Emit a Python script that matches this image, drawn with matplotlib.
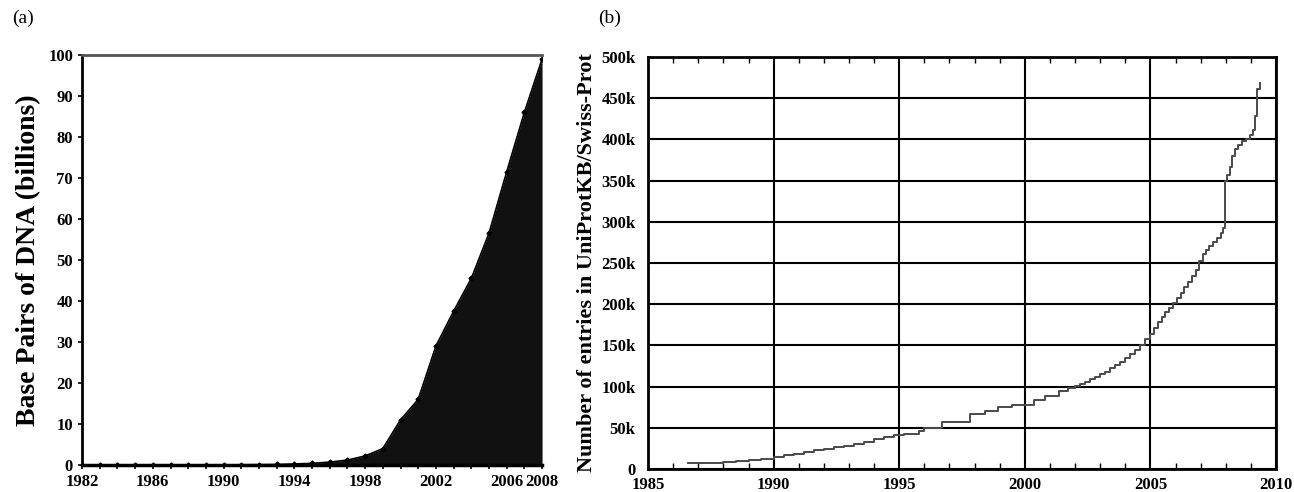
import numpy as np
from matplotlib import pyplot as plt
from matplotlib.ticker import MultipleLocator, FuncFormatter

# (a) GenBank growth, billions of base pairs per year
dna_years = list(range(1982, 2009))
dna_bp = [0.0, 0.0, 0.0, 0.0, 0.0, 0.0, 0.0, 0.0, 0.0, 0.05, 0.08, 0.12,
          0.25, 0.4, 0.7, 1.2, 2.2, 4.0, 11.0, 16.0, 29.0, 37.5, 45.5,
          56.5, 71.5, 86.0, 99.0]
dna_xticks = [1982, 1986, 1990, 1994, 1998, 2002, 2006, 2008]

# (b) UniProtKB/Swiss-Prot entries (thousands)
sp_years = [1986.6, 1988.0, 1988.5, 1989.0, 1989.5, 1990.0, 1990.4, 1990.8,
            1991.2, 1991.6, 1992.0, 1992.4, 1992.8, 1993.2, 1993.6, 1994.0,
            1994.4, 1994.8, 1995.2, 1995.8, 1996.0, 1996.7, 1997.8, 1998.4,
            1998.95, 1999.5, 2000.35, 2000.8, 2001.35, 2001.7,
            2002.0, 2002.2, 2002.4, 2002.6, 2002.8, 2003.0, 2003.2, 2003.4,
            2003.6, 2003.8, 2004.0, 2004.2, 2004.4, 2004.6, 2004.8, 2005.0,
            2005.15, 2005.3, 2005.45, 2005.6, 2005.75, 2005.9, 2006.05, 2006.2,
            2006.35, 2006.5, 2006.65, 2006.8, 2006.95, 2007.08, 2007.2, 2007.35,
            2007.5, 2007.65, 2007.8, 2007.9, 2007.95, 2008.05, 2008.15, 2008.25,
            2008.35, 2008.5, 2008.65, 2008.8, 2008.95, 2009.1, 2009.15, 2009.25,
            2009.35]
sp_entries = [7.5, 8.5, 10, 11, 12, 14.5, 16.5, 18.5,
              20.5, 22.5, 24.5, 26.5, 28.5, 30.5, 33, 36,
              38.5, 41, 42.5, 46, 49.5, 57, 67, 71,
              75, 78, 84, 89, 95, 98,
              101, 103, 106, 109, 112, 115, 118, 122,
              126, 130, 135, 140, 145, 151, 158, 164,
              171, 178, 184, 190, 196, 201, 208, 214,
              221, 227, 234, 242, 252, 261, 266, 271,
              275, 280, 286, 292, 350, 357, 366, 380,
              388, 393, 398, 401, 405, 411, 428, 461,
              468]

plt.rcParams['font.family'] = 'Liberation Serif'

fig = plt.figure(figsize=(12.94, 4.92), dpi=100)

# ---- panel (a) ----
ax1 = fig.add_axes([0.0634, 0.0549, 0.3555, 0.8333])
ax1.fill_between(dna_years, dna_bp, 0, color='#111111', lw=0)
ax1.plot(dna_years, dna_bp, color='black', lw=1.2, marker='D', markersize=2.5)
ax1.set_xlim(1982, 2008)
ax1.set_ylim(0, 100)
ax1.set_xticks(dna_xticks)
ax1.xaxis.set_minor_locator(MultipleLocator(1))
ax1.set_yticks(np.arange(0, 101, 10))
ax1.tick_params(axis='both', labelsize=12, length=3, width=1.2)
ax1.tick_params(axis='x', which='minor', length=3, width=1.2)
for lab in ax1.get_xticklabels() + ax1.get_yticklabels():
    lab.set_fontweight('bold')
ax1.spines['right'].set_visible(False)
ax1.spines['top'].set_color('#555555')
ax1.spines['top'].set_linewidth(2)
ax1.spines['left'].set_linewidth(2)
ax1.spines['bottom'].set_linewidth(2.5)
ax1.set_ylabel('Base Pairs of DNA (billions)', fontsize=20, fontweight='bold',
               labelpad=5)
fig.text(0.009, 0.962, '(a)', fontsize=14, va='center')

# ---- panel (b) ----
ax2 = fig.add_axes([0.5008, 0.0467, 0.4853, 0.8374])
ax2.step(sp_years, np.array(sp_entries) * 1000, where='post', color='#4a4a4a', lw=1.4)
ax2.set_xlim(1985, 2010)
ax2.set_ylim(0, 500000)
ax2.set_xticks(range(1985, 2011, 5))
ax2.xaxis.set_minor_locator(MultipleLocator(1))
ax2.set_yticks(range(0, 500001, 50000))
ax2.yaxis.set_major_formatter(FuncFormatter(lambda v, p: '0' if v == 0 else f'{int(v / 1000)}k'))
ax2.grid(True, which='major', color='black', lw=1.5)
ax2.tick_params(axis='x', which='major', length=0, labelsize=12, pad=6)
ax2.tick_params(axis='y', which='major', length=0, labelsize=12, pad=9)
ax2.tick_params(axis='x', which='minor', direction='in', length=4, width=1, top=True)
for lab in ax2.get_xticklabels() + ax2.get_yticklabels():
    lab.set_fontweight('bold')
for sp in ax2.spines.values():
    sp.set_linewidth(2)
ax2.set_ylabel('Number of entries in UniProtKB/Swiss-Prot', fontsize=16,
               fontweight='bold', labelpad=3)
fig.text(0.462, 0.962, '(b)', fontsize=14, va='center')

plt.savefig('out.png', dpi=100)
